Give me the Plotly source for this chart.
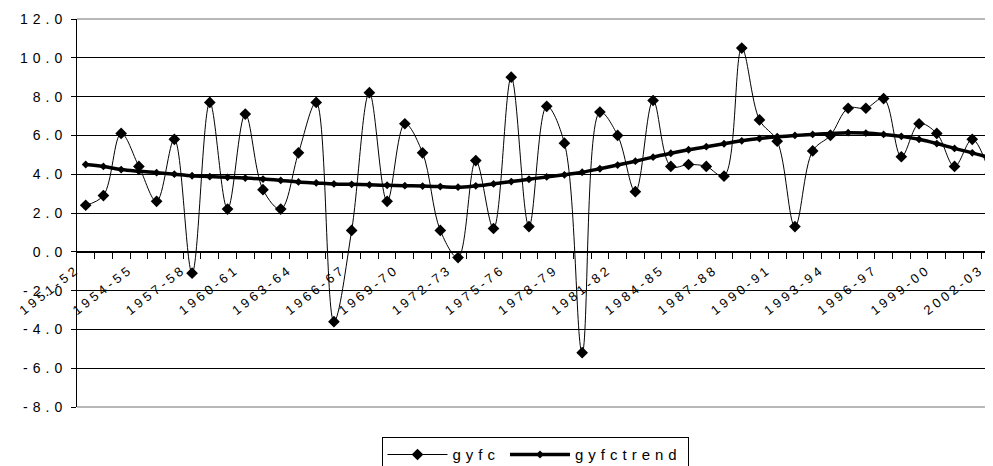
import plotly.graph_objects as go

years = ["1951-52","1952-53","1953-54","1954-55","1955-56","1956-57","1957-58","1958-59",
         "1959-60","1960-61","1961-62","1962-63","1963-64","1964-65","1965-66","1966-67",
         "1967-68","1968-69","1969-70","1970-71","1971-72","1972-73","1973-74","1974-75",
         "1975-76","1976-77","1977-78","1978-79","1979-80","1980-81","1981-82","1982-83",
         "1983-84","1984-85","1985-86","1986-87","1987-88","1988-89","1989-90","1990-91",
         "1991-92","1992-93","1993-94","1994-95","1995-96","1996-97","1997-98","1998-99",
         "1999-00","2000-01","2001-02","2002-03"]

gyfc = [2.4, 2.9, 6.1, 4.4, 2.6, 5.8, -1.1, 7.7, 2.2, 7.1,
        3.2, 2.2, 5.1, 7.7, -3.6, 1.1, 8.2, 2.6, 6.6, 5.1,
        1.1, -0.3, 4.7, 1.2, 9.0, 1.3, 7.5, 5.6, -5.2, 7.2,
        6.0, 3.1, 7.8, 4.4, 4.5, 4.4, 3.9, 10.5, 6.8, 5.7,
        1.3, 5.2, 6.0, 7.4, 7.4, 7.9, 4.9, 6.6, 6.1, 4.4,
        5.8, 4.0]

gyfctrend = [4.50, 4.40, 4.24, 4.15, 4.08, 4.00, 3.92, 3.88, 3.84, 3.80,
             3.75, 3.68, 3.60, 3.55, 3.50, 3.48, 3.45, 3.43, 3.41, 3.39,
             3.36, 3.33, 3.40, 3.50, 3.62, 3.74, 3.86, 3.97, 4.10, 4.28,
             4.47, 4.67, 4.88, 5.08, 5.26, 5.42, 5.57, 5.72, 5.84, 5.93,
             6.00, 6.05, 6.10, 6.14, 6.12, 6.05, 5.95, 5.80, 5.58, 5.33,
             5.10, 4.85]

label_step = 3
y_ticks = [-8, -6, -4, -2, 0, 2, 4, 6, 8, 10, 12]

FONT = "Liberation Sans, Arial, sans-serif"

def spaced(t, px=4):
    return f'<span style="letter-spacing:{px}px">{t}</span>'

xs = list(range(len(years)))

fig = go.Figure()
fig.add_trace(go.Scatter(
    x=xs, y=gyfc, name=spaced("gyfc", 5), mode="lines+markers",
    line=dict(color="black", width=1, shape="spline", smoothing=1.0),
    marker=dict(symbol="diamond", size=9, color="black"),
))
fig.add_trace(go.Scatter(
    x=xs, y=gyfctrend, name=spaced("gyfctrend", 5), mode="lines+markers",
    line=dict(color="black", width=3.5, shape="spline", smoothing=1.0),
    marker=dict(symbol="diamond", size=6, color="black"),
))

tick_idx = xs[::label_step]
fig.update_layout(
    width=985, height=458,
    margin=dict(l=69, r=0, t=11, b=59, autoexpand=False),
    paper_bgcolor="white", plot_bgcolor="white",
    font=dict(family=FONT, size=14, color="black"),
    showlegend=True,
    legend=dict(orientation="h", x=0.5, xanchor="center", y=-0.078, yanchor="top",
                bordercolor="black", borderwidth=1, bgcolor="white",
                font=dict(family=FONT, size=15, color="black"),
                itemwidth=60, tracegroupgap=0),
    xaxis=dict(
        range=[-0.49, 51.17], anchor="free", position=0.4,
        showgrid=False, zeroline=False,
        showline=True, linecolor="black", linewidth=1,
        tickmode="array", tickvals=tick_idx,
        ticktext=[spaced(years[i], 3.5) for i in tick_idx],
        ticks="", tickangle=-38, ticklabelstandoff=4, ticklabelshift=-9,
        tickfont=dict(family=FONT, size=13, color="black"),
        minor=dict(tickmode="linear", tick0=0.5, dtick=1, ticks="outside",
                   ticklen=6, tickcolor="black", tickwidth=1, showgrid=False),
    ),
    yaxis=dict(
        range=[-8, 12], showgrid=True, gridcolor="black", gridwidth=1,
        zeroline=False, showline=True, linecolor="black", linewidth=1,
        ticks="outside", ticklen=5, tickcolor="black", ticklabelstandoff=1,
        tickmode="array", tickvals=y_ticks,
        ticktext=[spaced(f"{v:.1f}", 5) for v in y_ticks],
        tickfont=dict(family=FONT, size=14, color="black"),
    ),
    shapes=[
        dict(type="line", xref="paper", yref="paper", x0=0, x1=1, y0=1, y1=1,
             line=dict(color="#a0a0a0", width=1.5), layer="above"),
        dict(type="line", xref="paper", yref="paper", x0=0, x1=1, y0=0, y1=0,
             line=dict(color="#a0a0a0", width=1.5), layer="above"),
    ],
)

fig.write_html("out.html")
